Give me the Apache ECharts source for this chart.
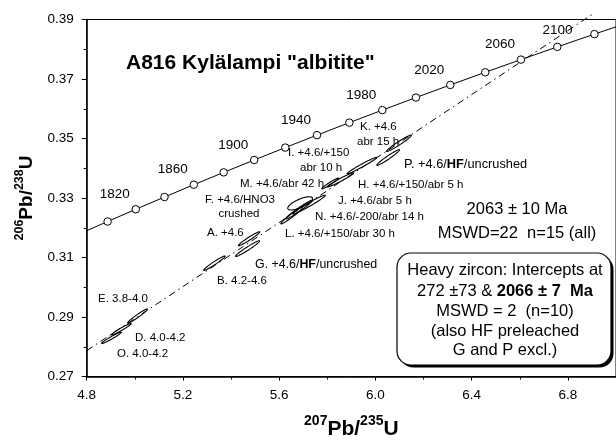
<!DOCTYPE html>
<html>
<head>
<meta charset="utf-8">
<script src="https://cdn.jsdelivr.net/npm/echarts@6/dist/echarts.min.js"></script>
<style>html,body{margin:0;padding:0;background:#fff}#chart{width:616px;height:445px}</style>
</head>
<body>
<div id="chart"></div>
<script>
// concordia points, every 20 Ma
const concAges = [1780, 1800, 1820, 1840, 1860, 1880, 1900, 1920, 1940, 1960, 1980, 2000, 2020, 2040, 2060, 2080, 2100, 2120]
const concX = [4.7721, 4.8869, 5.0040, 5.1234, 5.2453, 5.3695, 5.4962, 5.6254, 5.7572, 5.8916, 6.0287, 6.1685, 6.3111, 6.4565, 6.6049, 6.7561, 6.9104, 7.0678]
const concY = [0.31801, 0.32210, 0.32621, 0.33033, 0.33447, 0.33861, 0.34277, 0.34695, 0.35113, 0.35533, 0.35954, 0.36377, 0.36800, 0.37225, 0.37652, 0.38080, 0.38509, 0.38939]
const ageLabels = [1820, 1860, 1900, 1940, 1980, 2020, 2060, 2100]

// discordia (dash-dot)
const discX = [4.8, 6.91]
const discY = [0.2787, 0.3922]

// error ellipses of the fractions
const fracName = ['E', 'D', 'O', 'B', 'A', 'G', 'L', 'J', 'F', 'N', 'I', 'M', 'H', 'P', 'K']
const fracX = [5.011, 4.944, 4.903, 5.331, 5.475, 5.469, 5.652, 5.683, 5.724, 5.687, 5.812, 5.855, 5.944, 6.053, 6.098]
const fracY = [0.2903, 0.2859, 0.2830, 0.3081, 0.3163, 0.3130, 0.3241, 0.3261, 0.3278, 0.3282, 0.3349, 0.3361, 0.3409, 0.3436, 0.3484]
const fracSx = [0.0411, 0.0411, 0.0411, 0.0446, 0.0446, 0.0501, 0.0452, 0.0555, 0.0678, 0.0514, 0.0349, 0.0549, 0.0617, 0.0473, 0.0514]
const fracSy = [0.00238, 0.00194, 0.00192, 0.00243, 0.00237, 0.00265, 0.00281, 0.00315, 0.00315, 0.00222, 0.00182, 0.00237, 0.00276, 0.00265, 0.00275]
const fracRho = [0.97, 0.97, 0.97, 0.97, 0.97, 0.97, 0.97, 0.975, 0.975, 0.73, 0.97, 0.975, 0.98, 0.97, 0.97]

const FONT = '"Liberation Sans", Arial, sans-serif'

const chart = echarts.init(document.getElementById('chart'), null, { renderer: 'canvas' })

const concData = concX.map((x, i) => ({
  value: [x, concY[i]],
  label: {
    show: ageLabels.includes(concAges[i]),
    formatter: String(concAges[i]),
    offset: concAges[i] === 2100 ? [-37, -4] : [-21, -15]
  }
}))

const ellipseData = fracX.map((x, i) => [x, fracY[i], fracSx[i], fracSy[i], fracRho[i]])

const renderEllipse = (params, api) => {
  const cx = api.value(0), cy = api.value(1)
  const sx = api.value(2), sy = api.value(3), r = api.value(4)
  const q = Math.sqrt(1 - r * r)
  const pts = []
  for (let k = 0; k < 90; k++) {
    const t = k / 90 * Math.PI * 2
    pts.push(api.coord([cx + sx * Math.cos(t), cy + sy * (r * Math.cos(t) + q * Math.sin(t))]))
  }
  return {
    type: 'polygon',
    shape: { points: pts },
    style: { fill: 'none', stroke: '#000', lineWidth: 1.1 }
  }
}

const txt = (text, x, y, opts = {}) => ({
  type: 'text', z: 50,
  style: Object.assign({
    text, x, y, fill: '#000', fontFamily: FONT, fontSize: 11.5,
    textAlign: 'left', textVerticalAlign: 'middle',
    rich: { b: { fontWeight: 'bold', fontFamily: FONT, fontSize: opts.fontSize || 11.5, fill: '#000' } }
  }, opts)
})

const boxRich = { b: { fontWeight: 'bold', fontFamily: FONT, fontSize: 16.5, fill: '#000' } }

const graphics = [
  txt('A816 Kylälampi "albitite"', 126, 63, { fontSize: 21, fontWeight: 'bold' }),
  txt('F. +4.6/HNO3', 240, 200, { textAlign: 'center' }),
  txt('crushed', 239, 214, { textAlign: 'center' }),
  txt('M. +4.6/abr 42 h', 240, 184),
  txt('I. +4.6/+150', 288, 153),
  txt('abr 10 h', 300, 168),
  txt('K. +4.6', 360, 127),
  txt('abr 15 h', 357, 142),
  txt('P. +4.6/{b|HF}/uncrushed', 404, 164, { fontSize: 12.8 }),
  txt('H. +4.6/+150/abr 5 h', 358, 185),
  txt('J. +4.6/abr 5 h', 338, 201),
  txt('N. +4.6/-200/abr 14 h', 315, 217),
  txt('L. +4.6/+150/abr 30 h', 285, 234),
  txt('A. +4.6', 207, 233),
  txt('G. +4.6/{b|HF}/uncrushed', 255, 265, { fontSize: 12.4 }),
  txt('B. 4.2-4.6', 217, 281),
  txt('E. 3.8-4.0', 98, 299),
  txt('D. 4.0-4.2', 135, 338),
  txt('O. 4.0-4.2', 117, 354),
  txt('2063 ± 10 Ma', 517, 209, { fontSize: 16.5, textAlign: 'center' }),
  txt('MSWD=22  n=15 (all)', 517, 233, { fontSize: 16.5, textAlign: 'center' }),
  { type: 'rect', z: 40, shape: { x: 399.5, y: 255.5, width: 214, height: 112, r: 14 }, style: { fill: '#000' } },
  { type: 'rect', z: 41, shape: { x: 397, y: 253, width: 214, height: 112, r: 14 }, style: { fill: '#fff', stroke: '#000', lineWidth: 1.2 } },
  txt('Heavy zircon: Intercepts at', 505, 270, { fontSize: 16.5, textAlign: 'center' }),
  txt('272 ±73 & {b|2066 ± 7  Ma}', 505, 291, { fontSize: 16.5, textAlign: 'center', rich: boxRich }),
  txt('MSWD = 2  (n=10)', 505, 311, { fontSize: 16.5, textAlign: 'center' }),
  txt('(also HF preleached', 505, 331, { fontSize: 16.5, textAlign: 'center' }),
  txt('G and P excl.)', 505, 350, { fontSize: 16.5, textAlign: 'center' })
]

const option = {
  animation: false,
  backgroundColor: '#fff',
  grid: {
    left: 86.7, right: -5.5, top: 19.5, bottom: 62.7,
    show: true, borderColor: '#000', borderWidth: 1
  },
  xAxis: {
    type: 'value', min: 4.8, max: 7.0, interval: 0.4,
    name: '{s|207}{b|Pb/}{s|235}{b|U}',
    nameLocation: 'middle', nameGap: 38,
    nameTextStyle: {
      rich: {
        b: { fontSize: 21, fontWeight: 'bold', fontFamily: FONT, color: '#000', lineHeight: 30 },
        s: { fontSize: 14, fontWeight: 'bold', fontFamily: FONT, color: '#000', lineHeight: 10, verticalAlign: 'top' }
      }
    },
    axisLine: { show: true, lineStyle: { color: '#000', width: 1.5 } },
    axisTick: { show: true, length: 4, lineStyle: { color: '#000', width: 1 } },
    minorTick: { show: true, splitNumber: 2, length: 3, lineStyle: { color: '#000', width: 1 } },
    axisLabel: {
      color: '#000', fontSize: 13.5, fontFamily: FONT, margin: 12, showMaxLabel: false,
      formatter: v => v.toFixed(1)
    },
    splitLine: { show: false }
  },
  yAxis: {
    type: 'value', min: 0.27, max: 0.39, interval: 0.02,
    name: '{s|206}{b|Pb/}{s|238}{b|U}',
    nameLocation: 'middle', nameGap: 44, nameRotate: 90,
    nameTextStyle: {
      rich: {
        b: { fontSize: 19, fontWeight: 'bold', fontFamily: FONT, color: '#000', lineHeight: 28 },
        s: { fontSize: 12.5, fontWeight: 'bold', fontFamily: FONT, color: '#000', lineHeight: 9, verticalAlign: 'top' }
      }
    },
    axisLine: { show: true, lineStyle: { color: '#000', width: 1.5 } },
    axisTick: { show: true, length: 5, lineStyle: { color: '#000', width: 1 } },
    minorTick: { show: true, splitNumber: 2, length: 3, lineStyle: { color: '#000', width: 1 } },
    axisLabel: {
      color: '#000', fontSize: 13.5, fontFamily: FONT, margin: 13,
      formatter: v => v.toFixed(2)
    },
    splitLine: { show: false }
  },
  graphic: graphics,
  series: [
    {
      name: 'discordia', type: 'line', clip: false, z: 2,
      data: discX.map((x, i) => [x, discY[i]]),
      symbol: 'none', silent: true,
      lineStyle: { color: '#000', width: 1, type: [7, 4, 1.5, 4] }
    },
    {
      name: 'ellipses', type: 'custom', z: 3, silent: true,
      renderItem: renderEllipse,
      encode: { x: 0, y: 1 },
      data: ellipseData
    },
    {
      name: 'concordia', type: 'line', z: 4, clip: true, silent: true,
      data: concData,
      symbol: 'circle', symbolSize: 7.5, showAllSymbol: true,
      itemStyle: { color: '#fff', borderColor: '#000', borderWidth: 1 },
      lineStyle: { color: '#000', width: 1 },
      label: { position: 'inside', color: '#000', fontSize: 13.5, fontFamily: FONT }
    }
  ]
}

chart.setOption(option)
window.addEventListener('resize', () => chart.resize())
</script>
</body>
</html>
